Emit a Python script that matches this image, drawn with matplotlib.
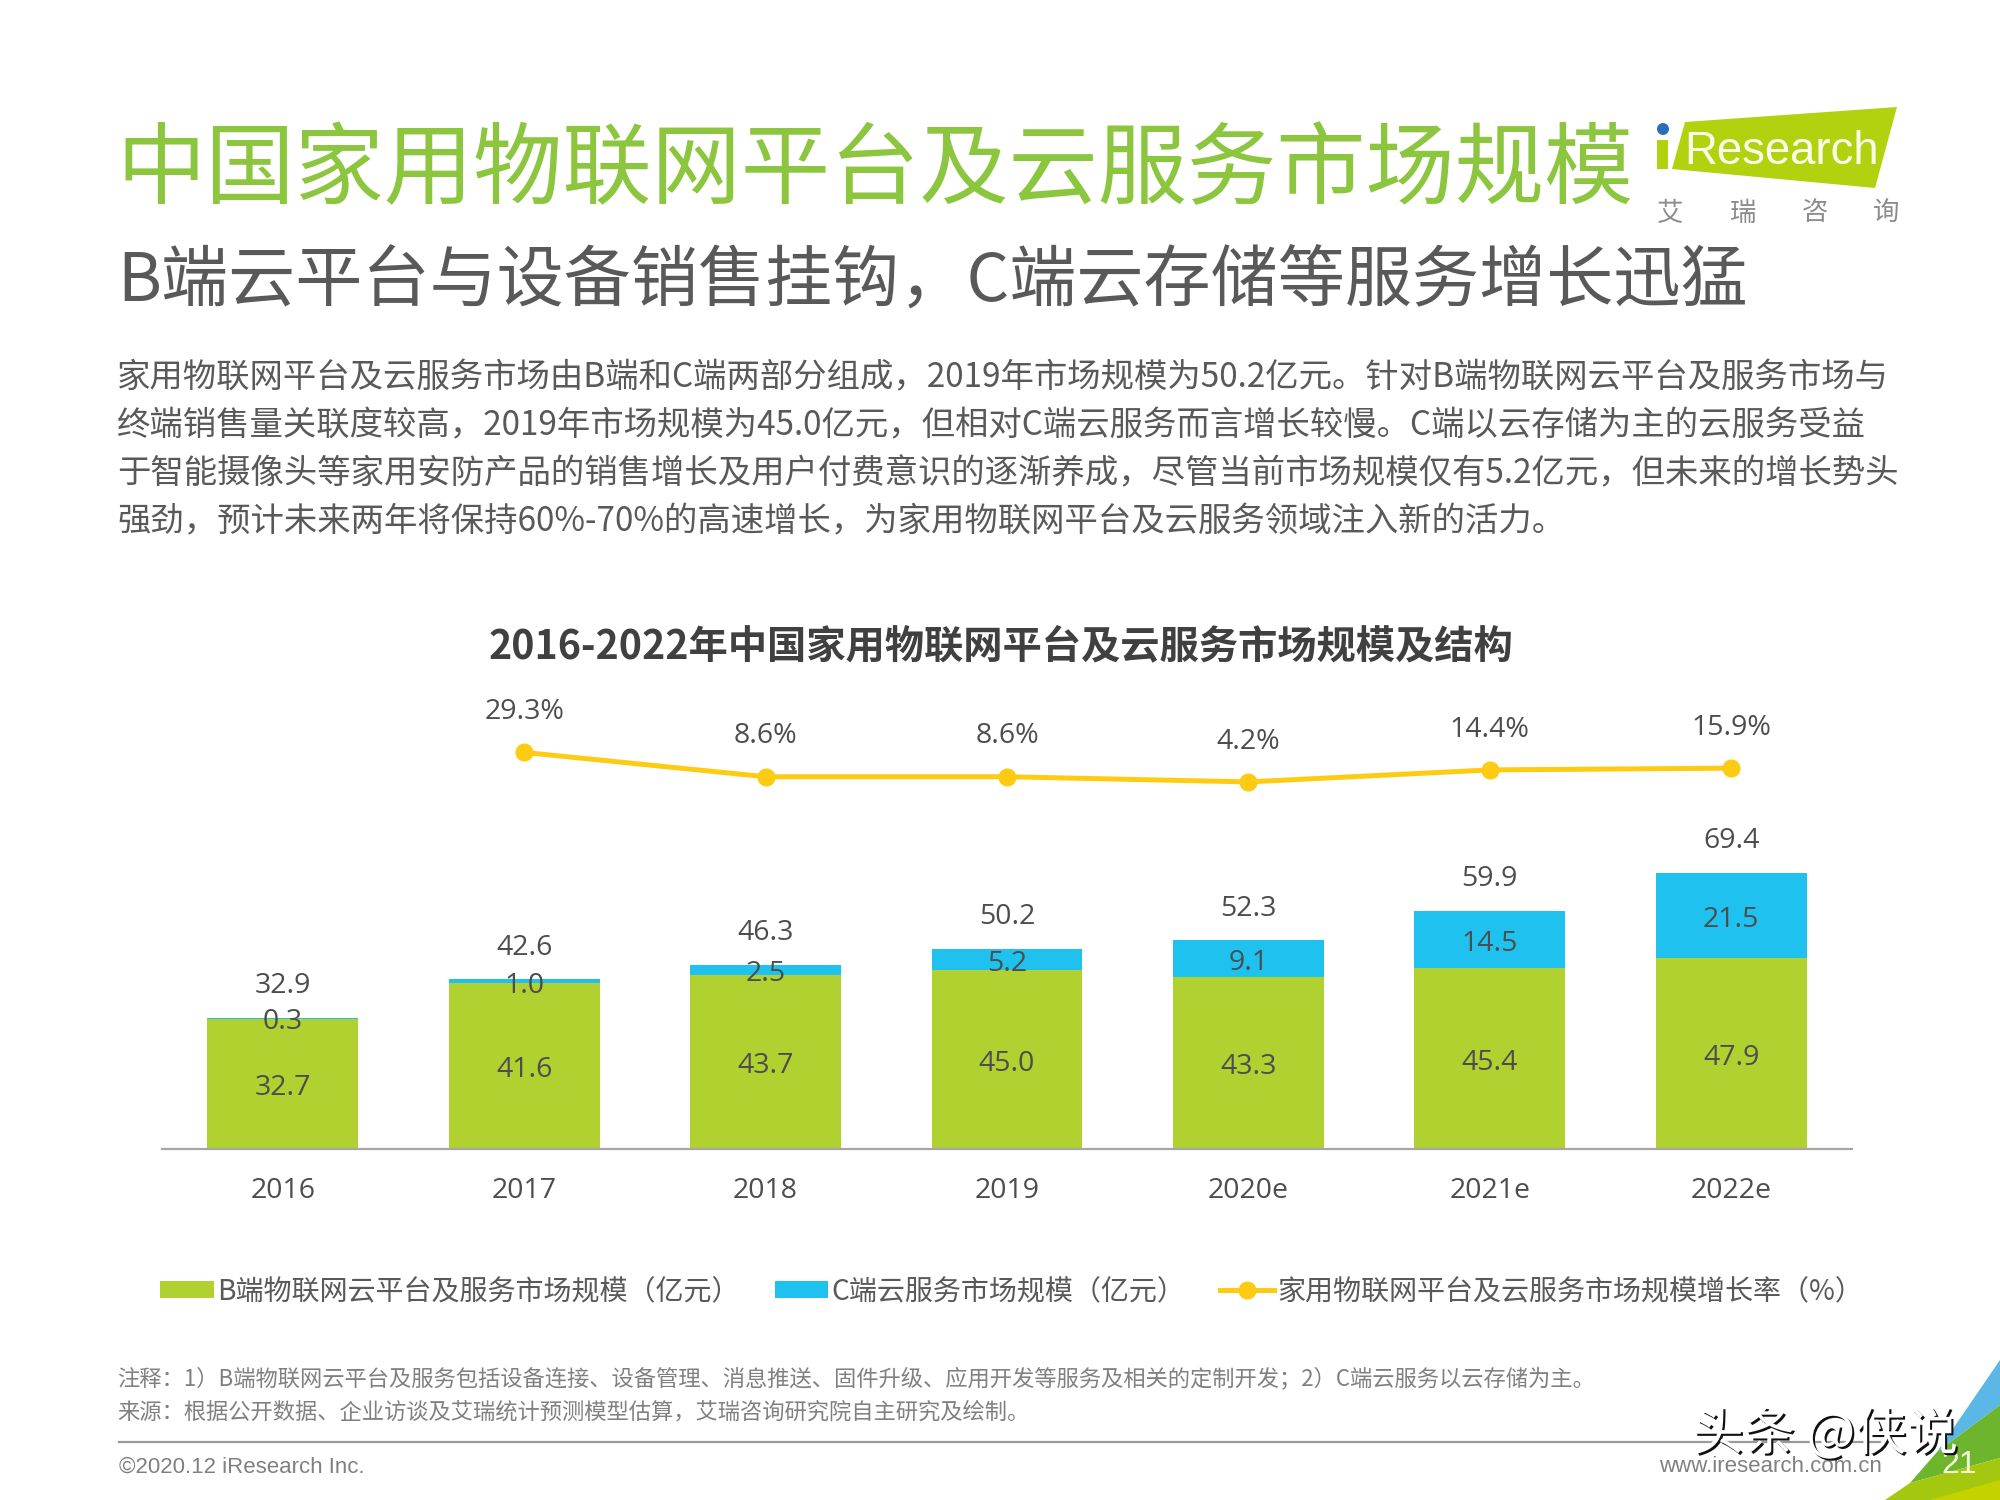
import matplotlib
matplotlib.use('Agg')
import matplotlib.pyplot as plt
import matplotlib.patheffects as pe
from matplotlib.patches import Polygon, Circle

plt.rcParams['font.family'] = ['Noto Sans CJK SC', 'DejaVu Sans']

years = ['2016', '2017', '2018', '2019', '2020e', '2021e', '2022e']
b_side = [32.7, 41.6, 43.7, 45.0, 43.3, 45.4, 47.9]
c_side = [0.3, 1.0, 2.5, 5.2, 9.1, 14.5, 21.5]
totals = [32.9, 42.6, 46.3, 50.2, 52.3, 59.9, 69.4]
growth_years = ['2017', '2018', '2019', '2020e', '2021e', '2022e']
growth = [29.3, 8.6, 8.6, 4.2, 14.4, 15.9]

title = '中国家用物联网平台及云服务市场规模'
subtitle = 'B端云平台与设备销售挂钩，C端云存储等服务增长迅猛'
body_lines = [
    '家用物联网平台及云服务市场由B端和C端两部分组成，2019年市场规模为50.2亿元。针对B端物联网云平台及服务市场与',
    '终端销售量关联度较高，2019年市场规模为45.0亿元，但相对C端云服务而言增长较慢。C端以云存储为主的云服务受益',
    '于智能摄像头等家用安防产品的销售增长及用户付费意识的逐渐养成，尽管当前市场规模仅有5.2亿元，但未来的增长势头',
    '强劲，预计未来两年将保持60%-70%的高速增长，为家用物联网平台及云服务领域注入新的活力。',
]
chart_title = '2016-2022年中国家用物联网平台及云服务市场规模及结构'
legend_labels = ['B端物联网云平台及服务市场规模（亿元）', 'C端云服务市场规模（亿元）', '家用物联网平台及云服务市场规模增长率（%）']
notes = [
    '注释：1）B端物联网云平台及服务包括设备连接、设备管理、消息推送、固件升级、应用开发等服务及相关的定制开发；2）C端云服务以云存储为主。',
    '来源：根据公开数据、企业访谈及艾瑞统计预测模型估算，艾瑞咨询研究院自主研究及绘制。',
]

GREEN = '#b1d130'
BLUE = '#1fc2ee'
YELLOW = '#fdcb12'
TEXT = '#4d4d4d'
W, H = 2000, 1500

fig = plt.figure(figsize=(20, 15), dpi=100, facecolor='white')

# page layer in pixel coordinates
page = fig.add_axes([0, 0, 1, 1])
page.set_xlim(0, W)
page.set_ylim(H, 0)
page.axis('off')

page.text(116, 172, title, fontsize=64.3, color='#8cc63f', va='center')
page.text(117, 283, subtitle, fontsize=48.3, color='#595959', va='center')
for y, line in zip([378, 426, 474, 522], body_lines):
    page.text(117, y, line, fontsize=24.03, color='#595959', va='center')
page.text(1001, 647, chart_title, fontsize=28.3, color='#404040', va='center', ha='center', fontweight='bold')
for y, line in zip([1380, 1412], notes):
    page.text(117, y, line, fontsize=16.07, color='#808080', va='center')

# footer
page.plot([119, 1880], [1442, 1442], color='#999999', lw=1.6)
page.text(119, 1467, '©2020.12 iResearch Inc.', fontsize=16, color='#808080', va='center', family='Liberation Sans')
page.text(1882, 1467, 'www.iresearch.com.cn', fontsize=16, color='#808080', va='center', ha='right', family='Liberation Sans')

# corner decoration
page.add_patch(Polygon([(2000, 1360), (2000, 1405), (1937, 1452)], color='#5bb8e6', lw=0))
page.add_patch(Polygon([(2000, 1405), (2000, 1458), (1910, 1483), (1937, 1452)], color='#6db52d', lw=0))
page.add_patch(Polygon([(2000, 1458), (2000, 1500), (1885, 1500), (1910, 1483)], color='#a3c80f', lw=0))
page.add_patch(Polygon([(2000, 1480), (2000, 1500), (1930, 1500)], color='#c4d300', lw=0))
page.text(1959, 1465, '21', fontsize=23, color='#f4f8d8', va='center', ha='center', family='Liberation Sans')

# logo
page.add_patch(Polygon([(1685, 122), (1897, 107), (1875, 188), (1672, 169)], color='#b2d20f', lw=0))
page.add_patch(Polygon([(1657, 140), (1668, 140), (1668, 169), (1657, 169)], color='#b2d20f', lw=0))
page.add_patch(Circle((1663, 129), 6, color='#2a6ebb', lw=0))
page.text(1782, 152, 'Research', fontsize=32.8, color='#fbfde8', va='center', ha='center', family='Liberation Sans')
for x, ch in zip([1670, 1743, 1815, 1886], '艾瑞咨询'):
    page.text(x, 213, ch, fontsize=19, color='#8c8c8c', va='center', ha='center')

# chart: bars on the main axes, growth line on a twin
top_px, bottom_px = 700, 1149
ax = fig.add_axes([162 / W, 1 - bottom_px / H, 1690 / W, (bottom_px - top_px) / H])
ax.patch.set_alpha(0)
x = list(range(len(years)))
bars_b = ax.bar(x, b_side, width=0.625, color=GREEN, label=legend_labels[0], zorder=2)
bars_c = ax.bar(x, c_side, width=0.625, bottom=b_side, color=BLUE, label=legend_labels[1], zorder=2)
ax.set_xlim(-0.5, 6.5)
ax.set_ylim(0, (bottom_px - top_px) / 3.98)
ax.set_xticks(x, years)
ax.set_yticks([])
ax.tick_params(axis='x', length=0, pad=20, labelsize=20.5, labelcolor=TEXT)
for lab in ax.get_xticklabels():
    lab.set_family('Open Sans')
for side in ['top', 'left', 'right']:
    ax.spines[side].set_visible(False)
ax.spines['bottom'].set_color('#a6a6a6')
ax.spines['bottom'].set_linewidth(1.6)

for i in x:
    ax.annotate(f'{b_side[i]:.1f}', (i, b_side[i] / 2), xytext=(0, -3), textcoords='offset points',
                ha='center', va='center', fontsize=20.5, color=TEXT, family='Open Sans', zorder=3)
    ax.annotate(f'{c_side[i]:.1f}', (i, b_side[i] + c_side[i] / 2), xytext=(0, -3), textcoords='offset points',
                ha='center', va='center', fontsize=20.5, color=TEXT, family='Open Sans', zorder=3)
    ax.annotate(f'{totals[i]:.1f}', (i, totals[i]), xytext=(0, 23), textcoords='offset points',
                ha='center', va='center', fontsize=20.5, color=TEXT, family='Open Sans')

ax2 = ax.twinx()
ax2.set_ylim(-308.2, 73.9)
ax2.axis('off')
growth_x = [years.index(y) for y in growth_years]
line, = ax2.plot(growth_x, growth, color=YELLOW, lw=3.6, marker='o', ms=12, label=legend_labels[2], zorder=4)
for gx, g in zip(growth_x, growth):
    ax2.annotate(f'{g}%', (gx, g), xytext=(0, 29), textcoords='offset points',
                 ha='center', va='center', fontsize=20.5, color=TEXT, family='Open Sans')

fig.legend(handles=[bars_b, bars_c, line], labels=legend_labels, loc='center left',
           bbox_to_anchor=(152 / W, 1 - 1291 / H), ncol=3, frameon=False, fontsize=20.2,
           labelcolor='#595959', handlelength=1.9, handleheight=0.55, handletextpad=0.12,
           columnspacing=1.25, borderpad=0.3, borderaxespad=0)

# watermark
page.text(1825, 1435, '头条 @侠说', fontsize=37, color='white', va='center', ha='center', zorder=10,
          path_effects=[pe.SimplePatchShadow(offset=(1.5, -1.5), shadow_rgbFace='#111111', alpha=1), pe.Normal()])

fig.savefig('out.png', dpi=100, facecolor='white')
